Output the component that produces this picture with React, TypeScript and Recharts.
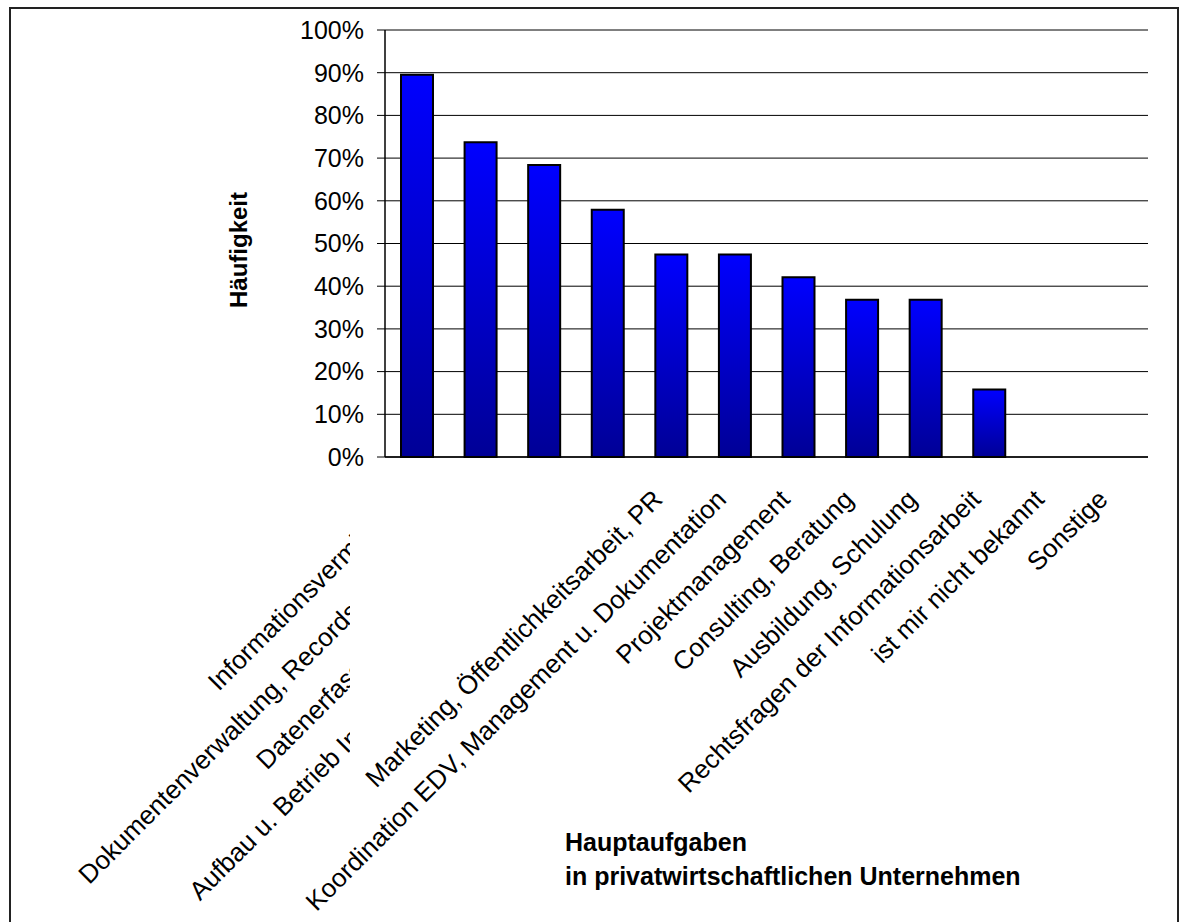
import { BarChart, Bar, XAxis, YAxis, CartesianGrid } from "recharts";

// Hauptaufgaben in privatwirtschaftlichen Unternehmen (Anteil der Nennungen)
const categories = [
  "Informationsvermittlung",
  "Dokumentenverwaltung, Records Management",
  "Datenerfassung und Datenpflege",
  "Aufbau u. Betrieb Informationsvermittlungsstellen",
  "Marketing, Öffentlichkeitsarbeit, PR",
  "Koordination EDV, Management u. Dokumentation",
  "Projektmanagement",
  "Consulting, Beratung",
  "Ausbildung, Schulung",
  "Rechtsfragen der Informationsarbeit",
  "ist mir nicht bekannt",
  "Sonstige",
];
const shares = [89.5, 73.7, 68.4, 57.9, 47.4, 47.4, 42.1, 36.8, 36.8, 15.8, 0, 0];
const yTicks = [0, 10, 20, 30, 40, 50, 60, 70, 80, 90, 100];
const boundaryTicks = [0, 1, 2, 3, 4, 5, 6, 7, 8, 9, 10, 11, 12];

const data = categories.map((name, i) => ({ name, share: shares[i] }));

const FONT = "'Liberation Sans', Arial, Helvetica, sans-serif";
// the first labels are cut off on the left in the original
const CLIPPED_LABELS = 4;

function CategoryTick({ x, y, payload, index }: any) {
  const tx = x - 7;
  const ty = y + 44;
  const label = (
    <text
      x={tx}
      y={ty}
      textAnchor="end"
      transform={`rotate(-45 ${tx} ${ty})`}
      fontSize={26}
      fontFamily={FONT}
      fill="#000"
    >
      {payload.value}
    </text>
  );
  if (index < CLIPPED_LABELS) return <g clipPath="url(#labelClip)">{label}</g>;
  return <g>{label}</g>;
}

export default function App() {
  return (
    <>
      <div
        style={{
          position: "absolute",
          left: 9,
          top: 7,
          width: 1170,
          height: 960,
          border: "2px solid #222",
          boxSizing: "border-box",
        }}
      />
      <div style={{ position: "absolute", left: 0, top: 0 }}>
        <BarChart
          width={1188}
          height={922}
          data={data}
          margin={{ top: 30, right: 40, bottom: 0, left: 0 }}
          barSize={32}
        >
          <defs>
            <linearGradient id="barGrad" x1="0" y1="0" x2="0" y2="1">
              <stop offset="0%" stopColor="#0000ff" />
              <stop offset="100%" stopColor="#000096" />
            </linearGradient>
            <clipPath id="labelClip">
              <rect x={0} y={0} width={350} height={922} />
            </clipPath>
          </defs>
          <CartesianGrid vertical={false} stroke="#000" strokeWidth={1} />
          <XAxis
            xAxisId="b"
            type="number"
            domain={[0, 12]}
            ticks={boundaryTicks}
            allowDataOverflow
            tick={false}
            tickSize={9}
            tickLine={{ stroke: "#000" }}
            axisLine={false}
            height={0}
          />
          <XAxis
            dataKey="name"
            interval={0}
            tickSize={0}
            tickMargin={0}
            tickLine={false}
            axisLine={{ stroke: "#000", strokeWidth: 1.5 }}
            tick={<CategoryTick />}
            height={465}
          />
          <YAxis
            domain={[0, 100]}
            ticks={yTicks}
            tickFormatter={(v: number) => `${v}%`}
            width={385}
            tickSize={8}
            tickMargin={13}
            tick={{ fontSize: 25, fill: "#000", fontFamily: FONT }}
            tickLine={{ stroke: "#000" }}
            axisLine={{ stroke: "#000", strokeWidth: 1.5 }}
          />
          <YAxis
            yAxisId="r"
            orientation="right"
            domain={[0, 100]}
            width={0}
            tick={false}
            tickLine={false}
            axisLine={{ stroke: "#808080", strokeWidth: 1.5 }}
          />
          <Bar
            dataKey="share"
            fill="url(#barGrad)"
            stroke="#000"
            strokeWidth={2}
            isAnimationActive={false}
          />
          <text
            x={247}
            y={250}
            textAnchor="middle"
            transform="rotate(-90 247 250)"
            fontSize={24}
            fontWeight="bold"
            fontFamily={FONT}
            fill="#000"
          >
            Häufigkeit
          </text>
          <text x={565} y={851} fontSize={25} fontWeight="bold" fontFamily={FONT} fill="#000">
            <tspan x={565}>Hauptaufgaben</tspan>
            <tspan x={565} dy={34}>
              in privatwirtschaftlichen Unternehmen
            </tspan>
          </text>
        </BarChart>
      </div>
    </>
  );
}
